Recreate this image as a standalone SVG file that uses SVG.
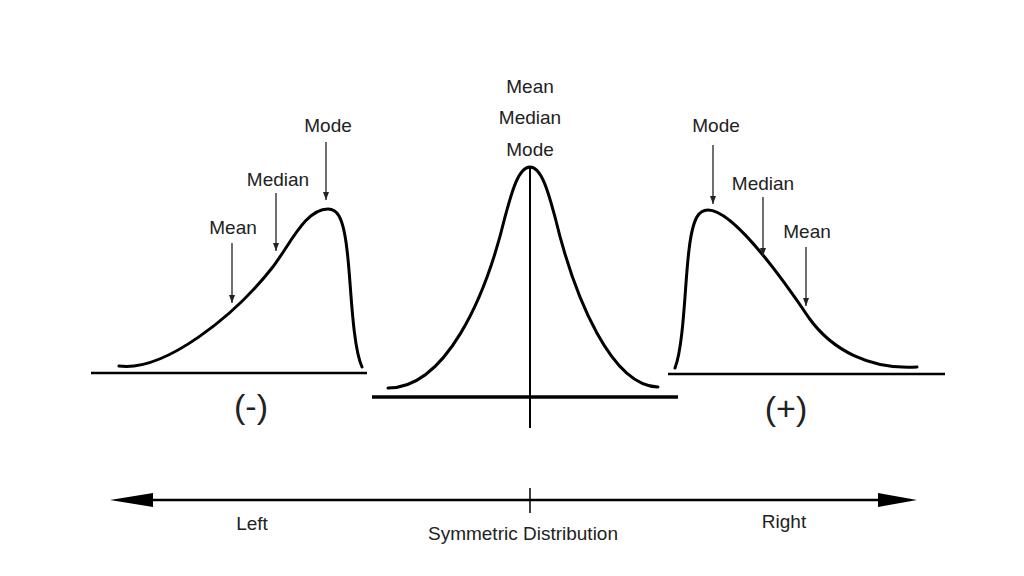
<svg xmlns="http://www.w3.org/2000/svg" width="1024" height="576" viewBox="0 0 1024 576">
<style>
  .lbl { font-family: "Liberation Sans", Arial, sans-serif; font-size: 19px; fill: #222; text-anchor: middle; }
  .sign { font-family: "Liberation Sans", Arial, sans-serif; font-size: 34px; fill: #222; text-anchor: middle; }
  .curve { fill: none; stroke: #000; stroke-width: 3; stroke-linecap: round; stroke-linejoin: round; }
  .base { stroke: #000; stroke-width: 2.5; }
  .ptr { stroke: #222; stroke-width: 1.3; marker-end: url(#head); }
</style>
<defs>
  <marker id="head" markerWidth="8" markerHeight="8" viewBox="0 0 8 8" refX="8" refY="4" orient="auto" markerUnits="userSpaceOnUse">
    <path d="M0,1 L8,4 L0,7 Z" fill="#222"/>
  </marker>
</defs>
<rect width="1024" height="576" fill="#fff"/>

<g id="left-skew">
  <line class="base" x1="91" y1="373" x2="367" y2="373"/>
  <path class="curve" d="M119,366 C165,372 235,315 272,268 C290,245 305,209 328,209 C336,209 343,214 347,250 C351,280 352,345 362,367"/>
  <text class="lbl" x="328" y="132">Mode</text>
  <text class="lbl" x="278" y="186">Median</text>
  <text class="lbl" x="233" y="234">Mean</text>
  <text class="sign" x="251" y="418">(-)</text>
</g>

<g id="symmetric">
  <line x1="372" y1="397" x2="678" y2="397" stroke="#000" stroke-width="3.5"/>
  <line x1="530" y1="167" x2="530" y2="428" stroke="#000" stroke-width="2"/>
  <path class="curve" d="M388,388 C445,388 485,300 505,217 C511,195 518,167 530,167 C542,167 549,195 555,217 C575,300 612,386 658,387"/>
  <text class="lbl" x="530" y="93">Mean</text>
  <text class="lbl" x="530" y="124">Median</text>
  <text class="lbl" x="530" y="156">Mode</text>
</g>

<g id="right-skew">
  <line class="base" x1="668" y1="374" x2="945" y2="374"/>
  <path class="curve" d="M675,368 C684,345 685,280 689,250 C693,215 700,210 708,210 C732,210 778,272 809,318 C832,350 870,370 917,367"/>
  <text class="lbl" x="716" y="132">Mode</text>
  <text class="lbl" x="763" y="190">Median</text>
  <text class="lbl" x="807" y="238">Mean</text>
  <text class="sign" x="786" y="420">(+)</text>
</g>

<g id="axis">
  <line x1="150" y1="500" x2="882" y2="500" stroke="#000" stroke-width="2.5"/>
  <polygon points="110,500 153,493 153,507" fill="#000"/>
  <polygon points="917,500 878,493 878,507" fill="#000"/>
  <line x1="530" y1="488" x2="530" y2="513" stroke="#000" stroke-width="1.5"/>
  <text class="lbl" x="252" y="530">Left</text>
  <text class="lbl" x="523" y="540">Symmetric Distribution</text>
  <text class="lbl" x="784" y="528">Right</text>
</g>

<g id="connectors">
  <line class="ptr" x1="326" y1="142" x2="326" y2="200"/>
  <line class="ptr" x1="276" y1="193" x2="276" y2="251"/>
  <line class="ptr" x1="232" y1="243" x2="232" y2="303"/>
  <line class="ptr" x1="713" y1="145" x2="713" y2="204"/>
  <line class="ptr" x1="763" y1="197" x2="763" y2="256"/>
  <line class="ptr" x1="806" y1="247" x2="806" y2="306"/>
</g>
</svg>
